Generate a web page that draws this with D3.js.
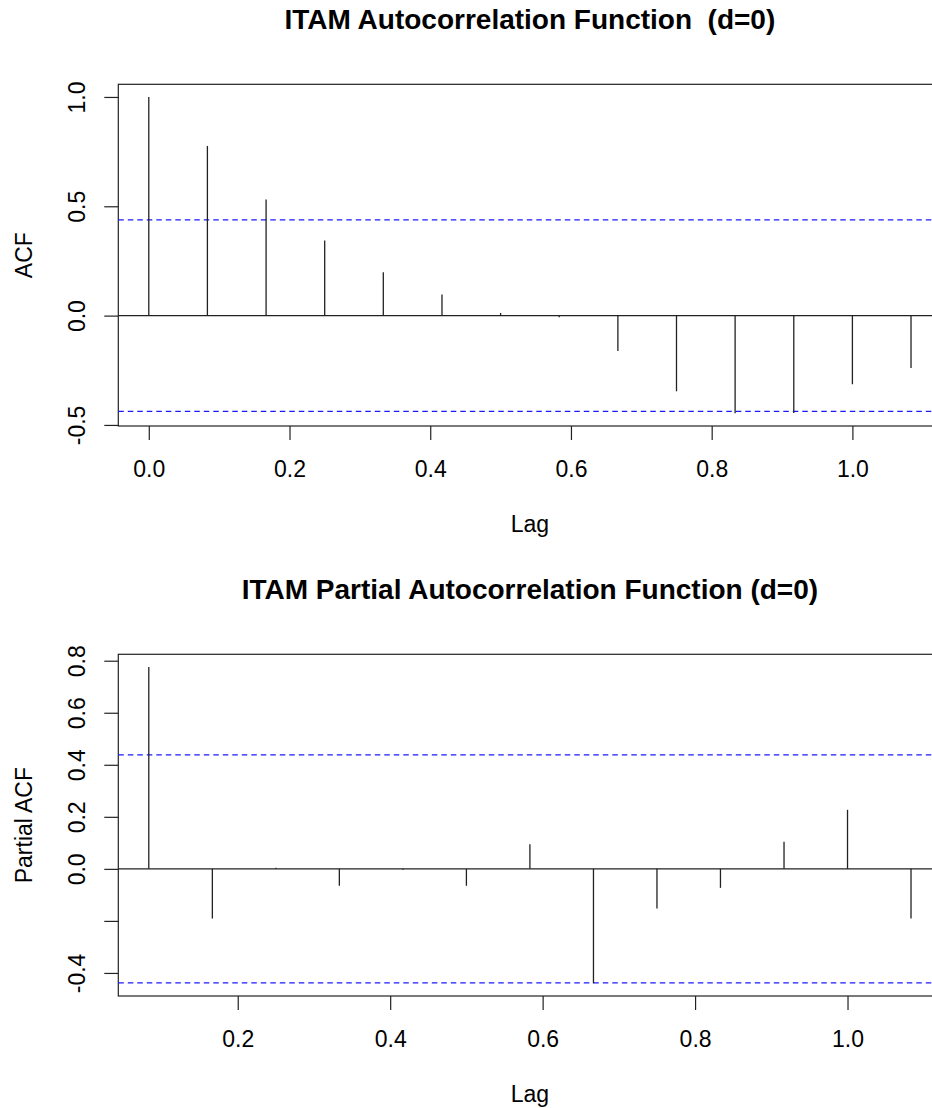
<!DOCTYPE html>
<html>
<head>
<meta charset="utf-8">
<script src="https://cdn.jsdelivr.net/npm/d3@7"></script>
<style>
  body { margin: 0; background: #fff; }
  svg text { font-family: "Liberation Sans", Arial, sans-serif; fill: #000; }
</style>
</head>
<body>
<div id="canvas"></div>
<script>
// ITAM monthly series, lags are shown in years (lag / 12)
var acfLags = [0, 0.0833, 0.1667, 0.25, 0.3333, 0.4167, 0.5, 0.5833, 0.6667, 0.75, 0.8333, 0.9167, 1.0, 1.0833];
var acfValues = [1.0, 0.776, 0.531, 0.344, 0.198, 0.097, 0.012, -0.008, -0.162, -0.346, -0.447, -0.445, -0.314, -0.240];

var pacfLags = [0.0833, 0.1667, 0.25, 0.3333, 0.4167, 0.5, 0.5833, 0.6667, 0.75, 0.8333, 0.9167, 1.0, 1.0833];
var pacfValues = [0.776, -0.191, 0.004, -0.065, -0.003, -0.065, 0.095, -0.440, -0.152, -0.073, 0.104, 0.227, -0.191];

// 95% bounds, 1.96 / sqrt(n)
var confLimit = 0.438;

var acfXTicks = [0, 0.2, 0.4, 0.6, 0.8, 1.0];
var acfYTicks = [-0.5, 0, 0.5, 1.0];
var acfYLabels = ["-0.5", "0.0", "0.5", "1.0"];

var pacfXTicks = [0.2, 0.4, 0.6, 0.8, 1.0];
var pacfYTicks = [-0.4, -0.2, 0, 0.2, 0.4, 0.6, 0.8];
var pacfYLabels = ["-0.4", "", "0.0", "0.2", "0.4", "0.6", "0.8"];

var width = 932, height = 1108;
var plotLeft = 118.3, plotRight = 941.5;   // right edge is cut off by the window
var lineColor = "#222";

var svg = d3.select('#canvas').append('svg')
    .attr('width', width)
    .attr('height', height);

// R style range: data and bounds, stretched 4% on each side
var padRange = function(vals) {
    var ext = d3.extent(vals);
    var pad = (ext[1] - ext[0]) * 0.04;
    return [ext[0] - pad, ext[1] + pad];
};

var drawPanel = function(p) {
    var g = svg.append('g');

    var x = d3.scaleLinear()
        .domain(padRange(p.lags))
        .range([plotLeft, plotRight]);
    var y = d3.scaleLinear()
        .domain(padRange(p.values.concat([confLimit, -confLimit])))
        .range([p.bottom, p.top]);

    // title
    g.append('text')
        .attr('x', (plotLeft + plotRight) / 2)
        .attr('y', p.top - 55)
        .attr('text-anchor', 'middle')
        .style('font-size', '28px')
        .style('font-weight', 'bold')
        .style('white-space', 'pre')
        .text(p.title);

    // x axis
    var xAxis = g.append('g')
        .attr('transform', 'translate(0,' + p.bottom + ')')
        .call(d3.axisBottom(x).tickValues(p.xTicks).tickSize(14).tickFormat(d3.format('.1f')));
    xAxis.select('.domain').remove();
    xAxis.selectAll('line').attr('stroke', lineColor).attr('stroke-width', 1.2);
    xAxis.selectAll('text')
        .attr('y', 50.5)
        .attr('dy', 0)
        .attr('font-family', null)
        .style('font-size', '23px');

    // y axis, labels turned like R does
    var yAxis = g.append('g')
        .attr('transform', 'translate(' + plotLeft + ',0)')
        .call(d3.axisLeft(y).tickValues(p.yTicks).tickSize(14)
            .tickFormat(function(d, i) { return p.yLabels[i]; }));
    yAxis.select('.domain').remove();
    yAxis.selectAll('line').attr('stroke', lineColor).attr('stroke-width', 1.2);
    yAxis.selectAll('text')
        .attr('x', 0)
        .attr('y', -33)
        .attr('dy', 0)
        .attr('transform', 'rotate(-90)')
        .attr('text-anchor', 'middle')
        .style('font-size', '23px');

    // axis titles
    g.append('text')
        .attr('x', (plotLeft + plotRight) / 2)
        .attr('y', p.bottom + 106)
        .attr('text-anchor', 'middle')
        .style('font-size', '23px')
        .text('Lag');
    g.append('text')
        .attr('transform', 'translate(32,' + (p.top + p.bottom) / 2 + ') rotate(-90)')
        .attr('text-anchor', 'middle')
        .style('font-size', '23px')
        .text(p.yTitle);

    // box round the plot
    g.append('rect')
        .attr('x', plotLeft)
        .attr('y', p.top)
        .attr('width', plotRight - plotLeft)
        .attr('height', p.bottom - p.top)
        .attr('fill', 'none')
        .attr('stroke', lineColor)
        .attr('stroke-width', 1.2);

    // zero line
    g.append('line')
        .attr('x1', plotLeft).attr('x2', plotRight)
        .attr('y1', y(0)).attr('y2', y(0))
        .attr('stroke', lineColor)
        .attr('stroke-width', 1.2);

    // blue dashed bounds
    g.selectAll('line.bound').data([confLimit, -confLimit])
        .enter().append('line')
        .attr('class', 'bound')
        .attr('x1', plotLeft).attr('x2', plotRight)
        .attr('y1', function(d) { return y(d); })
        .attr('y2', function(d) { return y(d); })
        .attr('stroke', '#1a1aff')
        .attr('stroke-width', 1.2)
        .attr('stroke-dasharray', '5.5,4');

    // the spikes
    g.selectAll('line.spike').data(p.values)
        .enter().append('line')
        .attr('class', 'spike')
        .attr('x1', function(d, i) { return x(p.lags[i]); })
        .attr('x2', function(d, i) { return x(p.lags[i]); })
        .attr('y1', y(0))
        .attr('y2', function(d) { return y(d); })
        .attr('stroke', lineColor)
        .attr('stroke-width', 1.3);
};

drawPanel({
    title: 'ITAM Autocorrelation Function  (d=0)',
    yTitle: 'ACF',
    lags: acfLags, values: acfValues,
    xTicks: acfXTicks, yTicks: acfYTicks, yLabels: acfYLabels,
    top: 84.3, bottom: 426
});

drawPanel({
    title: 'ITAM Partial Autocorrelation Function (d=0)',
    yTitle: 'Partial ACF',
    lags: pacfLags, values: pacfValues,
    xTicks: pacfXTicks, yTicks: pacfYTicks, yLabels: pacfYLabels,
    top: 654.3, bottom: 996
});
</script>
</body>
</html>
